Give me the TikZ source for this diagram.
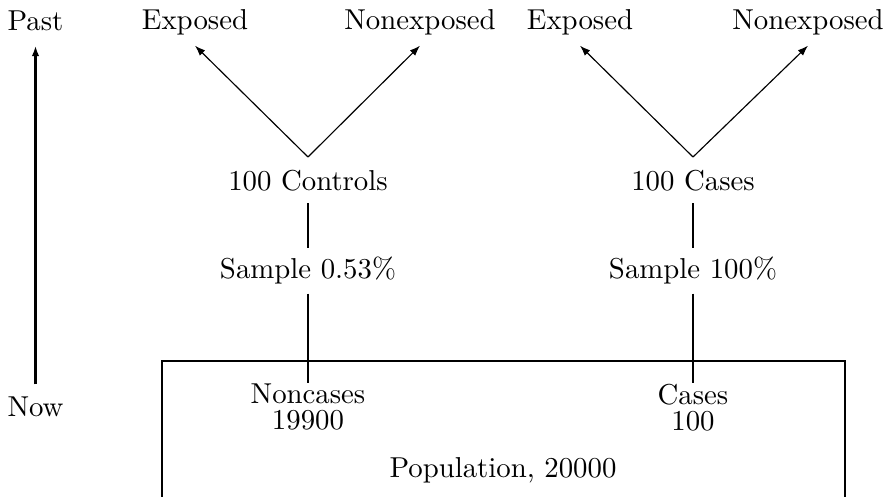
\documentclass[tikz,border=0pt]{standalone}
\usetikzlibrary{arrows.meta}
\begin{document}
\begin{tikzpicture}[x=0.3472pt,y=-0.3472pt,
  toplabel/.style={anchor=base, inner sep=3.3pt},
  lbl/.style={anchor=base, inner sep=0pt},
  link/.style={line width=0.7pt},
  branch/.style={line width=0.4pt, -{Latex[length=3.6pt,width=2.6pt]}},
  timeline/.style={line width=0.7pt, -{Latex[length=3.6pt,width=2.6pt]}}]
\useasboundingbox (0,0) rectangle (889,497);

% time axis
\node[toplabel] (past) at (35.5,30.5) {Past};
\node[toplabel] (now)  at (35.5,417) {Now};
\draw[timeline, shorten >=1.7pt, shorten <=1pt] (now.north) -- (past.south);

% exposure labels
\node[toplabel] (cexp)  at (195,30) {Exposed};
\node[toplabel] (cnexp) at (420,30) {Nonexposed};
\node[toplabel] (kexp)  at (580,30) {Exposed};
\node[toplabel] (knexp) at (808,30) {Nonexposed};

% sampled groups
\node[lbl] (ctrl) at (308,191) {100 Controls};
\node[lbl] (case) at (693,191) {100 Cases};
\coordinate (capex) at (308,157);
\coordinate (kapex) at (693,157);
\draw[branch] (capex) -- (cexp.south);
\draw[branch] (capex) -- (cnexp.south);
\draw[branch] (kapex) -- (kexp.south);
\draw[branch] (kapex) -- (knexp.south);

% sampling fractions
\node[lbl] (csamp) at (308,279) {Sample 0.53\%};
\node[lbl] (ksamp) at (693,279) {Sample 100\%};

% population
\draw[link] (162,497) |- (845,361) -- (845,497);
\node[anchor=north, inner sep=0pt, align=center] (noncases) at (308,383.5) {Noncases\\[-3pt]19900};
\node[anchor=north, inner sep=0pt, align=center] (cases) at (693,383.5) {Cases\\[-3pt]100};
\node[lbl] (pop) at (503,478) {Population, 20000};

% sampling links
\draw[link, shorten <=3.8pt, shorten >=2.9pt] (ctrl.south) -- (csamp.north);
\draw[link, shorten <=3.8pt, shorten >=2.9pt] (case.south) -- (ksamp.north);
\draw[link, shorten <=2.9pt] (csamp.south) -- (noncases.north);
\draw[link, shorten <=2.9pt] (ksamp.south) -- (cases.north);
\end{tikzpicture}
\end{document}
